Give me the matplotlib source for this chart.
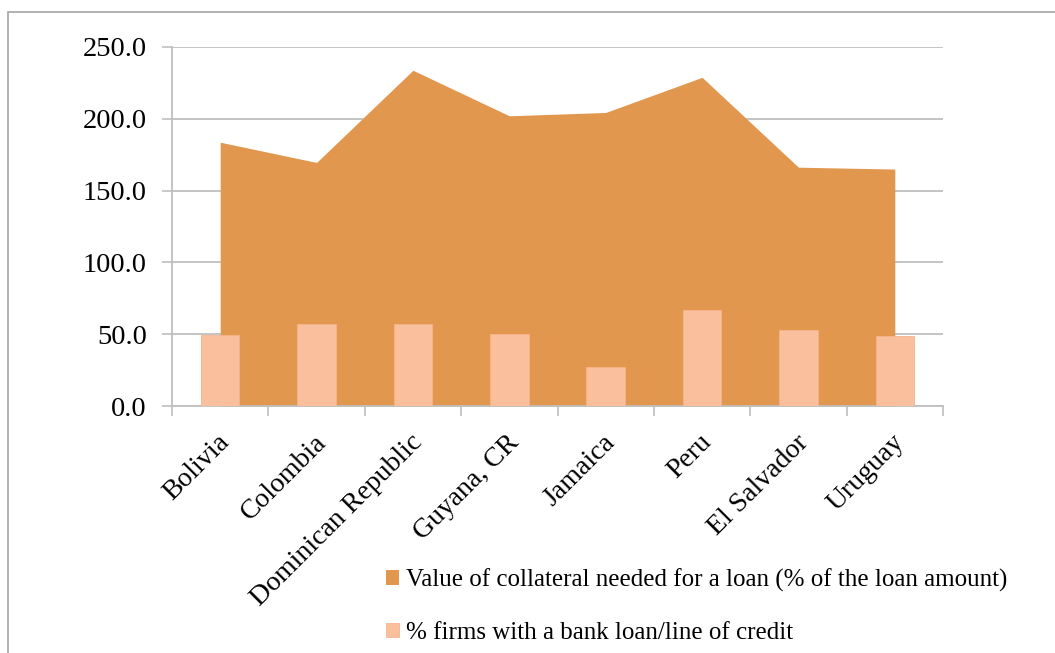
import matplotlib
matplotlib.use("Agg")
import matplotlib.pyplot as plt
from matplotlib.patches import Rectangle
from matplotlib.transforms import ScaledTranslation

countries = ["Bolivia", "Colombia", "Dominican Republic", "Guyana, CR",
             "Jamaica", "Peru", "El Salvador", "Uruguay"]
collateral_pct = [183.7, 169.6, 233.8, 202.1, 204.4, 228.9, 166.3, 165.0]
firms_with_loan_pct = [49.1, 57.0, 57.0, 50.2, 27.0, 66.7, 53.0, 48.4]
y_ticks = [0, 50, 100, 150, 200, 250]

area_color = "#E2974F"
bar_color = "#FAC09E"
grid_color = "#BFBFBF"
serif = ["Liberation Serif", "DejaVu Serif"]

fig = plt.figure(figsize=(10.55, 6.53), dpi=100)
ax = fig.add_axes([172 / 1055, 1 - 406 / 653, (943 - 172) / 1055, (406 - 47) / 653])

# outer chart frame
fig.patches.append(Rectangle((8 / 1055, -0.05), 1.1, 1 - 12 / 653 + 0.05,
                             transform=fig.transFigure, fill=False,
                             edgecolor="#A6A6A6", linewidth=1.2))

x = list(range(len(countries)))
ax.fill_between(x, collateral_pct, 0, color=area_color, linewidth=0, zorder=2,
                label="Value of collateral needed for a loan (% of the loan amount)")
ax.bar(x, firms_with_loan_pct, width=0.4, color=bar_color, zorder=3,
       edgecolor="#F6B48C", linewidth=0.6,
       label="% firms with a bank loan/line of credit")

ax.set_xlim(-0.5, len(countries) - 0.5)
ax.set_ylim(0, 250)
ax.set_yticks(y_ticks)
ax.set_yticklabels([f"{v:.1f}" for v in y_ticks], fontsize=20.5, family=serif)
ax.yaxis.grid(True, color=grid_color, linewidth=1.3, zorder=1)
ax.set_axisbelow(True)

ax.set_xticks([i - 0.5 for i in range(len(countries) + 1)])
ax.set_xticklabels([])
ax.tick_params(axis="x", length=7, color=grid_color, width=1.2)
ax.tick_params(axis="y", length=7, color=grid_color, width=1.2, pad=11)

# rotated category labels, right end anchored just below each category centre
label_shift = ScaledTranslation(-3 / 100, -24 / 100, fig.dpi_scale_trans)
for i, name in enumerate(countries):
    ax.text(i, 0, name, rotation=45, ha="right", va="top",
            rotation_mode="anchor", fontsize=20, family=serif,
            transform=ax.transData + label_shift)

for side in ("top", "right"):
    ax.spines[side].set_visible(False)
for side in ("left", "bottom"):
    ax.spines[side].set_color(grid_color)
    ax.spines[side].set_linewidth(1.3)

handles, labels = ax.get_legend_handles_labels()
leg = fig.legend(handles, labels, loc="upper left",
                 bbox_to_anchor=(378 / 1055, 1 - 561 / 653),
                 frameon=False, prop={"family": serif, "size": 18},
                 handlelength=0.52, handleheight=0.52, handletextpad=0.3,
                 labelspacing=1.2, borderaxespad=0, borderpad=0.3)

fig.savefig("out.png", dpi=100)
